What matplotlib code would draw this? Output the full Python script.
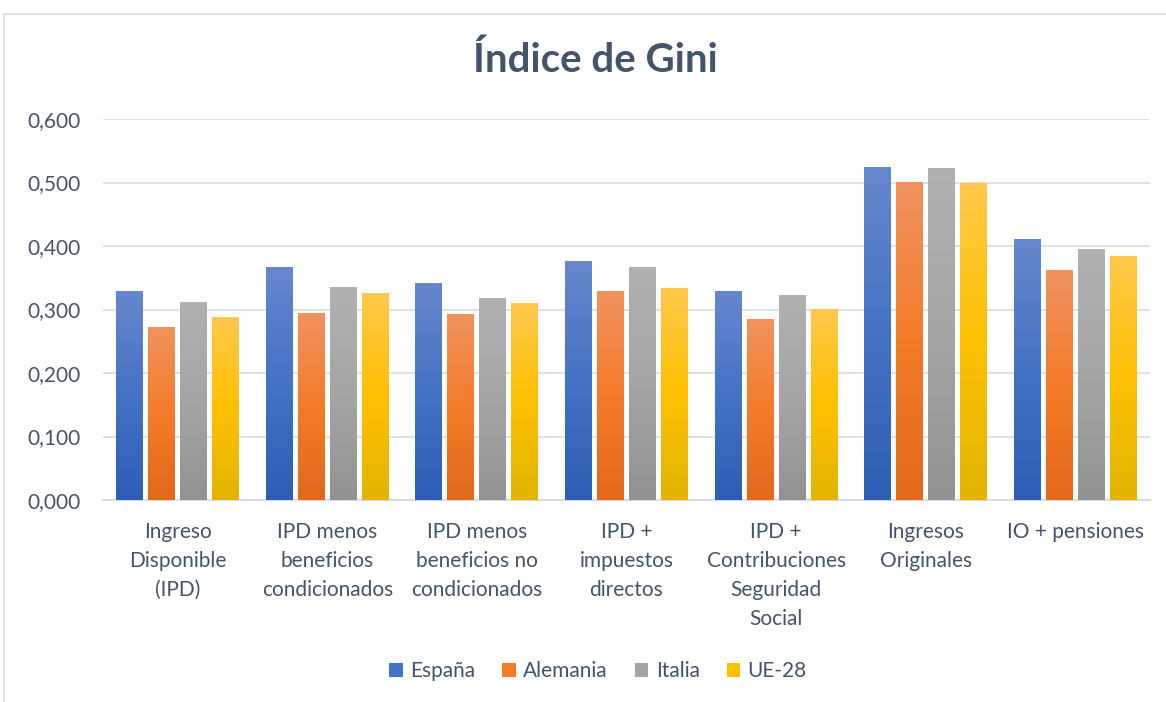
import numpy as np
import matplotlib.pyplot as plt
from matplotlib.colors import LinearSegmentedColormap
from matplotlib.patches import Rectangle, Patch

categories = ['Ingreso\nDisponible\n(IPD)', 'IPD menos\nbeneficios\ncondicionados',
              'IPD menos\nbeneficios no\ncondicionados', 'IPD +\nimpuestos\ndirectos',
              'IPD +\nContribuciones\nSeguridad\nSocial', 'Ingresos\nOriginales',
              'IO + pensiones']
series = ['España', 'Alemania', 'Italia', 'UE-28']
espana = [0.329, 0.366, 0.341, 0.375, 0.328, 0.523, 0.411]
alemania = [0.271, 0.293, 0.292, 0.329, 0.285, 0.500, 0.362]
italia = [0.311, 0.334, 0.318, 0.366, 0.322, 0.522, 0.395]
ue28 = [0.288, 0.325, 0.309, 0.333, 0.300, 0.498, 0.384]
yticks = [0.0, 0.1, 0.2, 0.3, 0.4, 0.5, 0.6]

# top / middle / bottom colours of the vertical gradient
grads = [('#6787CE', '#4472C4', '#2E5DB5'),
         ('#F0925F', '#F47B28', '#E2691A'),
         ('#B1B1B1', '#A5A5A5', '#929292'),
         ('#FFC84C', '#FFC000', '#E2B400')]

txt = '#44546A'
plt.rcParams['font.family'] = ['Lato', 'DejaVu Sans']

fig = plt.figure(figsize=(11.66, 7.02), dpi=100)
ax = fig.add_axes([103 / 1166, 1 - 500 / 702, 1047 / 1166, 381 / 702])

fig.patches.append(Rectangle((4 / 1166, -0.1), 1.2, 1.1 - 14 / 702,
                             transform=fig.transFigure, fill=False,
                             edgecolor='#D9DDE3', lw=1.2))

x = np.arange(len(categories))
w = 0.18
step = 0.214
data = [espana, alemania, italia, ue28]
handles = []
for i, vals in enumerate(data):
    off = (i - 1.5) * step
    bars = ax.bar(x + off, vals, width=w, color='none', edgecolor='none', zorder=3)
    top, mid, bot = grads[i]
    cmap = LinearSegmentedColormap.from_list('g%d' % i, [bot, mid, top])
    grad = np.linspace(0, 1, 256).reshape(-1, 1)
    for b in bars:
        x0, h = b.get_x(), b.get_height()
        ax.imshow(grad, cmap=cmap, origin='lower', aspect='auto',
                  extent=(x0, x0 + b.get_width(), 0, h), zorder=3)
    handles.append(Patch(facecolor=mid, edgecolor='none'))

ax.set_xlim(-0.5, len(categories) - 0.5)
ax.set_ylim(0, 0.6)
ax.set_yticks(yticks)
ax.set_yticklabels([('%.3f' % v).replace('.', ',') for v in yticks])
ax.set_xticks(x)
ax.set_xticklabels(categories, linespacing=1.56, va='top')
ax.tick_params(axis='both', length=0, labelsize=15, labelcolor=txt)
ax.tick_params(axis='y', pad=16)
ax.tick_params(axis='x', pad=16)
for s in ['top', 'right', 'left']:
    ax.spines[s].set_visible(False)
ax.spines['bottom'].set_color('#D9DDE3')
ax.spines['bottom'].set_linewidth(1.5)
ax.yaxis.grid(True, color='#DDE1E8', lw=1.5, zorder=0)
ax.set_axisbelow(True)

fig.text(595 / 1166, 1 - 60 / 702, 'Índice de Gini', ha='center', va='center',
         fontsize=29, fontweight='bold', color=txt)

fig.legend(handles, series, loc='center', bbox_to_anchor=(598 / 1166, 1 - 671 / 702),
           ncol=4, frameon=False, fontsize=15, labelcolor=txt, handlelength=0.65,
           handleheight=0.65, handletextpad=0.35, columnspacing=1.3)

fig.savefig('out.png', dpi=100)
